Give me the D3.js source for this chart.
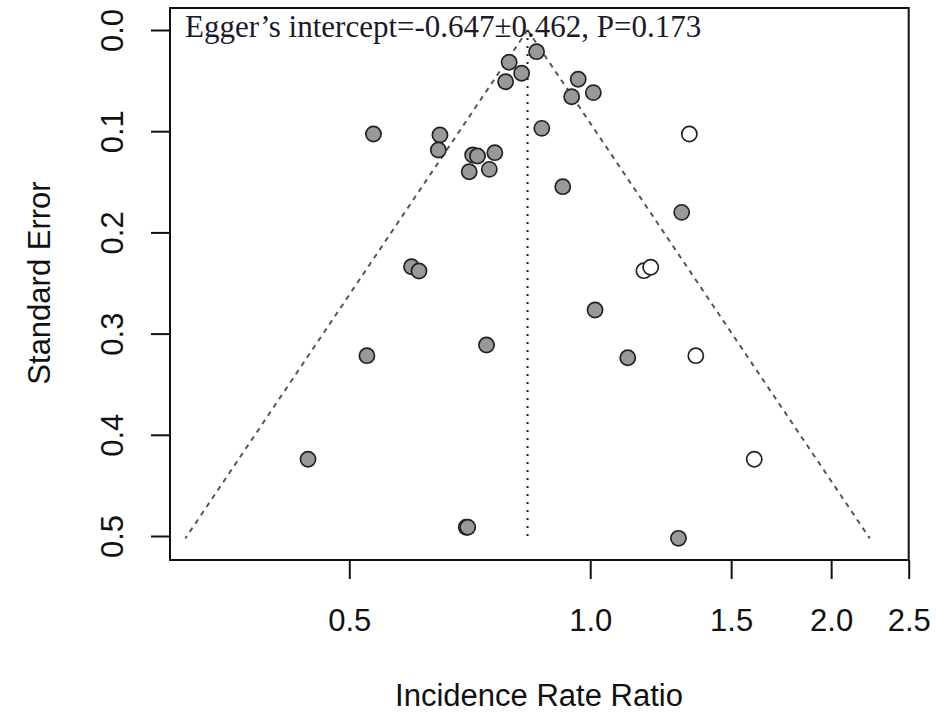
<!DOCTYPE html>
<html>
<head>
<meta charset="utf-8">
<script src="https://cdn.jsdelivr.net/npm/d3@7"></script>
<style>
  html, body { margin: 0; padding: 0; background: #fff; }
  svg { display: block; }
</style>
</head>
<body>
<svg id="chart" width="944" height="712"></svg>
<script>
// Observed studies (filled circles)
const irrObserved = [0.857, 0.792, 0.821, 0.784, 0.966, 0.948, 1.009, 0.870, 0.536, 0.649,
                     0.646, 0.713, 0.723, 0.760, 0.706, 0.748, 0.924, 1.301, 1.014, 1.114,
                     0.598, 0.611, 0.526, 0.742, 0.444, 0.700, 0.703, 1.289];
const seObserved  = [0.0214, 0.0319, 0.0428, 0.0511, 0.0487, 0.0659, 0.0619, 0.0972, 0.1028, 0.1038,
                     0.1186, 0.1235, 0.1245, 0.1212, 0.1400, 0.1377, 0.1548, 0.1802, 0.2767, 0.3238,
                     0.2339, 0.2381, 0.3218, 0.3113, 0.4242, 0.4914, 0.4914, 0.5023];
// Imputed studies (trim-and-fill, open circles)
const irrImputed = [1.330, 1.167, 1.190, 1.355, 1.603];
const seImputed  = [0.1028, 0.2378, 0.2345, 0.3218, 0.4242];
// Pooled estimate
const pooledIRR = 0.835;
// Axis ticks
const xTicks = [0.5, 1.0, 1.5, 2.0, 2.5];
const yTicks = [0.0, 0.1, 0.2, 0.3, 0.4, 0.5];
const titleText = "Egger\u2019s intercept=-0.647\u00B10.462, P=0.173";
const xLabel = "Incidence Rate Ratio";
const yLabel = "Standard Error";

const svg = d3.select("#chart");
const box = {left: 170, right: 908.7, top: 8, bottom: 560};

const x = d3.scaleLog().domain([0.5, 2.5]).range([349.3, 908.7]);
const y = d3.scaleLinear().domain([0, 0.5]).range([30, 536]);

const maxSE = d3.max(seObserved.concat(seImputed));
const z = 1.96;

// Funnel (dashed) lines
const funnel = [
  [[pooledIRR, 0], [pooledIRR * Math.exp(-z * maxSE), maxSE]],
  [[pooledIRR, 0], [pooledIRR * Math.exp(z * maxSE), maxSE]]
];
const line = d3.line().x(d => x(d[0])).y(d => y(d[1]));
svg.selectAll("path.funnel").data(funnel).enter().append("path")
  .attr("class", "funnel")
  .attr("d", line)
  .attr("fill", "none")
  .attr("stroke", "#555")
  .attr("stroke-width", 2)
  .attr("stroke-dasharray", "5,5");

// Pooled vertical dotted line
svg.append("path")
  .attr("d", line([[pooledIRR, 0], [pooledIRR, maxSE]]))
  .attr("stroke", "#222")
  .attr("stroke-width", 2)
  .attr("stroke-dasharray", "2,6");

// Observed points
const obs = irrObserved.map((v, i) => ({irr: v, se: seObserved[i]}));
svg.selectAll("circle.obs").data(obs).enter().append("circle")
  .attr("class", "obs")
  .attr("cx", d => x(d.irr))
  .attr("cy", d => y(d.se))
  .attr("r", 7.6)
  .attr("fill", "#999")
  .attr("stroke", "#222")
  .attr("stroke-width", 1.7);

// Imputed points
const imp = irrImputed.map((v, i) => ({irr: v, se: seImputed[i]}));
svg.selectAll("circle.imp").data(imp).enter().append("circle")
  .attr("class", "imp")
  .attr("cx", d => x(d.irr))
  .attr("cy", d => y(d.se))
  .attr("r", 7.6)
  .attr("fill", "#fff")
  .attr("stroke", "#222")
  .attr("stroke-width", 1.7);

// Box
svg.append("rect")
  .attr("x", box.left).attr("y", box.top)
  .attr("width", box.right - box.left).attr("height", box.bottom - box.top)
  .attr("fill", "none").attr("stroke", "#111").attr("stroke-width", 2);

const fmt = d3.format(".1f");
// X axis
const gx = svg.append("g").attr("transform", `translate(0,${box.bottom})`)
  .call(d3.axisBottom(x).tickValues(xTicks).tickFormat(fmt).tickSize(19));
gx.select(".domain").remove();
gx.selectAll(".tick line").attr("stroke", "#111").attr("stroke-width", 2);
gx.selectAll(".tick text")
  .attr("y", 71).attr("dy", null)
  .attr("fill", "#111")
  .style("font-family", "'Liberation Sans', Arial, sans-serif")
  .style("font-size", "31px");

// Y axis
const gy = svg.append("g").attr("transform", `translate(${box.left},0)`)
  .call(d3.axisLeft(y).tickValues(yTicks).tickFormat(fmt).tickSize(19));
gy.select(".domain").remove();
gy.selectAll(".tick line").attr("stroke", "#111").attr("stroke-width", 2);
gy.selectAll(".tick text")
  .attr("x", null).attr("dy", null)
  .attr("transform", "translate(-47,0) rotate(-90)")
  .attr("text-anchor", "middle")
  .attr("fill", "#111")
  .style("font-family", "'Liberation Sans', Arial, sans-serif")
  .style("font-size", "31px");

// Title annotation
svg.append("text")
  .attr("x", 185).attr("y", 36.5)
  .attr("fill", "#1a1a2a")
  .style("font-family", "'Liberation Serif', 'Times New Roman', serif")
  .style("font-size", "31px")
  .text(titleText);

// Axis titles
svg.append("text")
  .attr("x", 539).attr("y", 706)
  .attr("text-anchor", "middle")
  .attr("fill", "#111")
  .style("font-family", "'Liberation Sans', Arial, sans-serif")
  .style("font-size", "31px")
  .text(xLabel);

svg.append("text")
  .attr("transform", "translate(50,283) rotate(-90)")
  .attr("text-anchor", "middle")
  .attr("fill", "#111")
  .style("font-family", "'Liberation Sans', Arial, sans-serif")
  .style("font-size", "31px")
  .text(yLabel);
</script>
</body>
</html>
